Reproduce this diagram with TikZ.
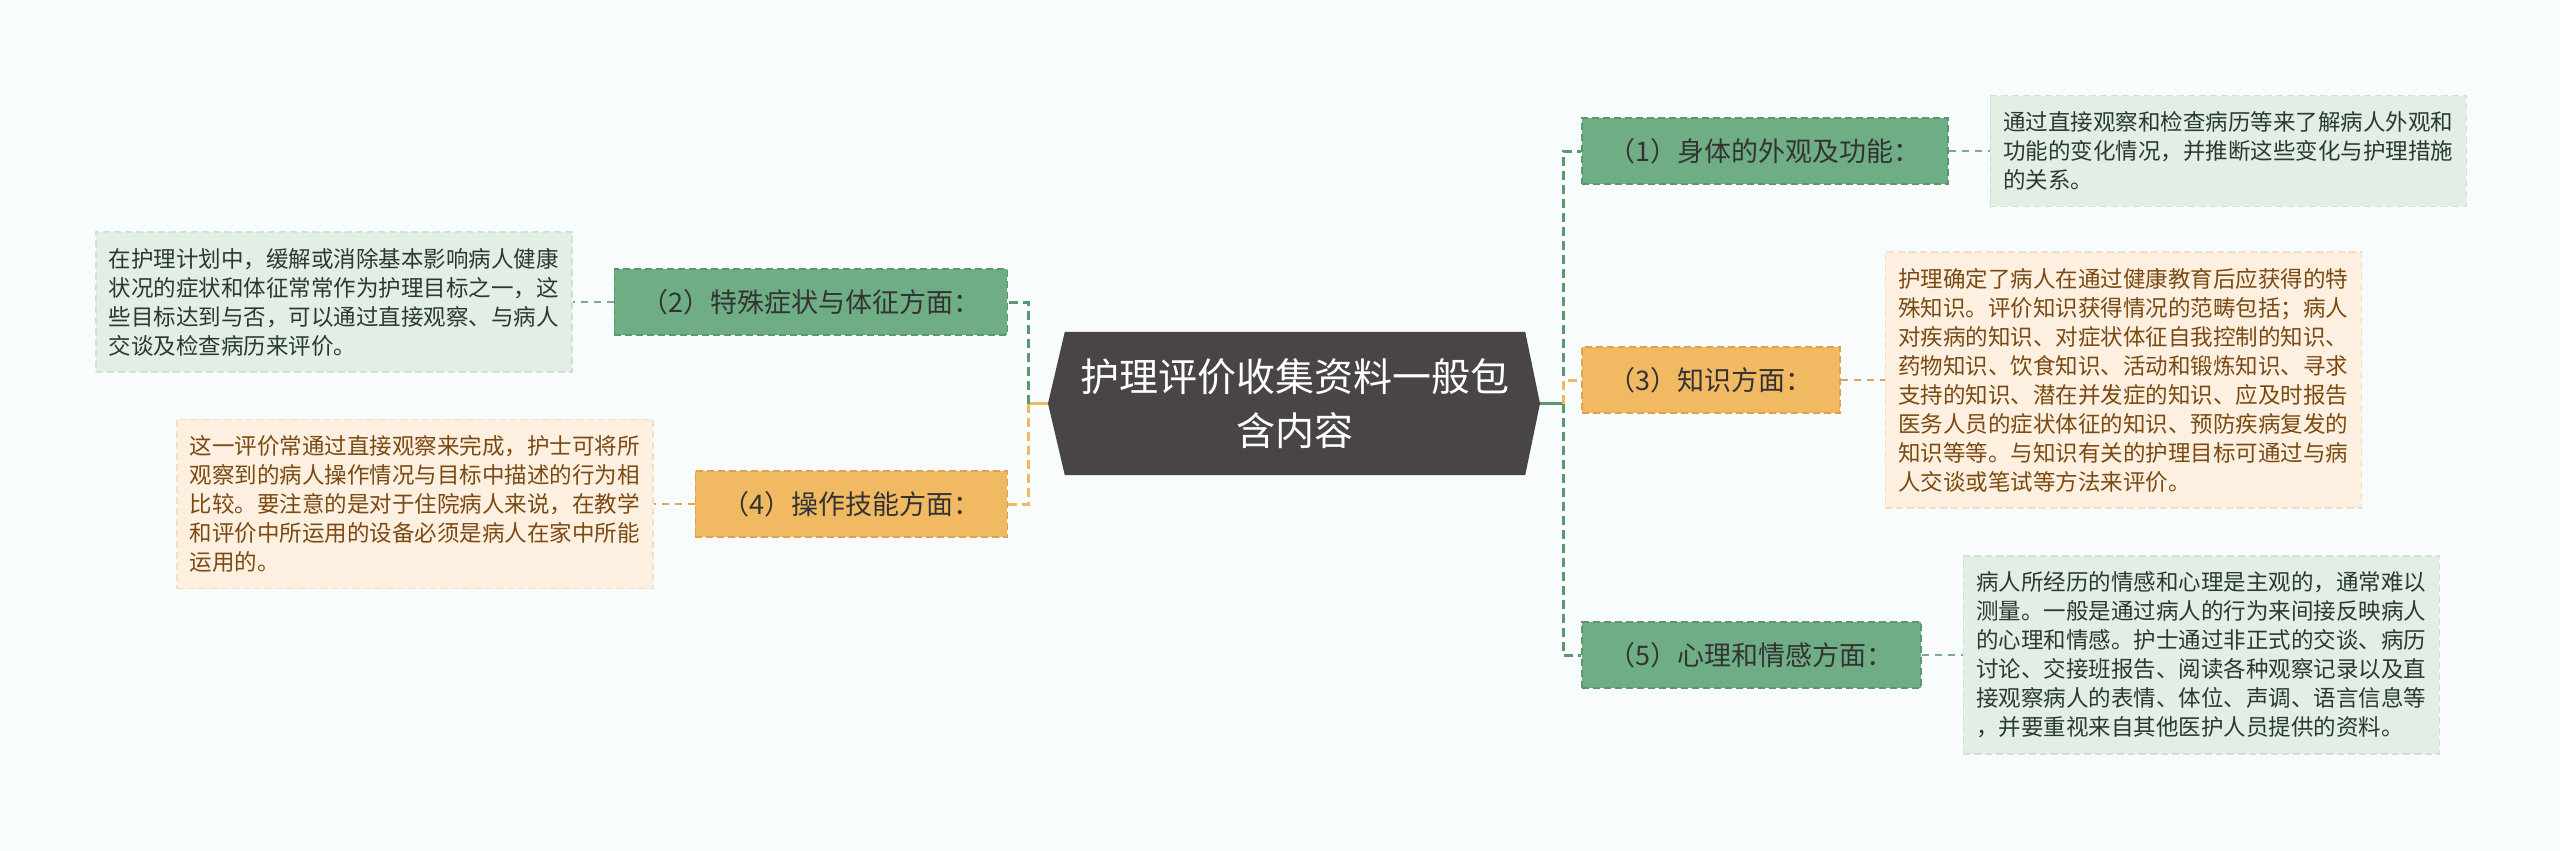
\documentclass[tikz,border=0pt]{standalone}
\usepackage{fontspec}
\setmainfont{Noto Sans CJK SC}
\usepackage{tikz}
\usetikzlibrary{positioning,backgrounds}
\definecolor{bgpale}{HTML}{F8FCFC}
\definecolor{rootgray}{HTML}{4A4545}
\definecolor{sage}{HTML}{6FAE85}
\definecolor{sagedark}{HTML}{5A9870}
\definecolor{sagelight}{HTML}{E3EEE5}
\definecolor{sageline}{HTML}{D0E2D5}
\definecolor{sagetext}{HTML}{2B3A2F}
\definecolor{amber}{HTML}{F1BA62}
\definecolor{amberdark}{HTML}{D9A350}
\definecolor{amberlight}{HTML}{FDF0E1}
\definecolor{amberline}{HTML}{F5DFC3}
\definecolor{ambertext}{HTML}{7B4A12}
\tikzset{
  branch/.style={line width=1.5pt,dash pattern=on 7pt off 4pt,minimum height=66pt,
                 inner xsep=27pt,font=\fontsize{27}{31}\selectfont,text=black!80},
  brg/.style={branch,fill=sage,draw=sagedark},
  bro/.style={branch,fill=amber,draw=amberdark},
  leaf/.style={line width=1.5pt,dash pattern=on 7pt off 4pt,align=left,
               inner xsep=13pt,inner ysep=16pt,font=\fontsize{22.5}{29}\selectfont},
  leafg/.style={leaf,fill=sagelight,draw=sageline,text=sagetext},
  leafo/.style={leaf,fill=amberlight,draw=amberline,text=ambertext},
  gspine/.style={sagedark,line width=3pt,dash pattern=on 9pt off 5pt},
  ospine/.style={amber,line width=3pt,dash pattern=on 9pt off 5pt},
  gsolid/.style={sagedark,line width=3pt},
  osolid/.style={amber,line width=3pt},
  glink/.style={sagedark!80,line width=2pt,dash pattern=on 7pt off 6pt},
  olink/.style={amber!90!black,line width=2pt,dash pattern=on 7pt off 6pt},
}
\begin{document}
\begin{tikzpicture}[x=1pt,y=-1pt]
  % centre topic
  \node[font=\fontsize{39}{54}\selectfont,text=white,align=center,
        minimum width=460pt,minimum height=143pt,inner sep=0pt] (root) at (1295,403.5)
        {护理评价收集资料一般包\\含内容};
  \coordinate (ltip) at (1048,403.5);
  \coordinate (rtip) at (1540,403.5);
  \coordinate (lspine) at (1028,403.5);
  \coordinate (rspine) at (1563,403.5);
  \begin{scope}[on background layer]
    \fill[bgpale] (0,0) rectangle (2560,851);
    \fill[rootgray] (ltip) -- (root.north west) -- (root.north east) -- (rtip)
      -- (root.south east) -- (root.south west) -- cycle;
  \end{scope}

  % branches
  \node[brg,anchor=west] (b1) at (1581,151) {（1）身体的外观及功能：};
  \node[bro,anchor=west] (b3) at (1581,380) {（3）知识方面：};
  \node[brg,anchor=west] (b5) at (1581,655) {（5）心理和情感方面：};
  \node[brg,anchor=east] (b2) at (1008,302) {（2）特殊症状与体征方面：};
  \node[bro,anchor=east] (b4) at (1008,504) {（4）操作技能方面：};

  % details
  \node[leafg,right=41pt of b1] (l1) {通过直接观察和检查病历等来了解病人外观和\\功能的变化情况，并推断这些变化与护理措施\\的关系。};
  \node[leafo,right=44pt of b3] (l3) {护理确定了病人在通过健康教育后应获得的特\\殊知识。评价知识获得情况的范畴包括；病人\\对疾病的知识、对症状体征自我控制的知识、\\药物知识、饮食知识、活动和锻炼知识、寻求\\支持的知识、潜在并发症的知识、应及时报告\\医务人员的症状体征的知识、预防疾病复发的\\知识等等。与知识有关的护理目标可通过与病\\人交谈或笔试等方法来评价。};
  \node[leafg,right=41pt of b5] (l5) {病人所经历的情感和心理是主观的，通常难以\\测量。一般是通过病人的行为来间接反映病人\\的心理和情感。护士通过非正式的交谈、病历\\讨论、交接班报告、阅读各种观察记录以及直\\接观察病人的表情、体位、声调、语言信息等\\，并要重视来自其他医护人员提供的资料。};
  \node[leafg,left=41pt of b2] (l2) {在护理计划中，缓解或消除基本影响病人健康\\状况的症状和体征常常作为护理目标之一，这\\些目标达到与否，可以通过直接观察、与病人\\交谈及检查病历来评价。};
  \node[leafo,left=41pt of b4] (l4) {这一评价常通过直接观察来完成，护士可将所\\观察到的病人操作情况与目标中描述的行为相\\比较。要注意的是对于住院病人来说，在教学\\和评价中所运用的设备必须是病人在家中所能\\运用的。};

  % connectors
  \draw[gsolid] (rtip) -- (rspine);
  \draw[gspine] (rspine) |- (b1.west);
  \draw[gspine] (rspine) |- (b5.west);
  \draw[ospine] (rspine) |- (b3.west);
  \draw[osolid] (ltip) -- (lspine);
  \draw[gspine] (lspine) |- (b2.east);
  \draw[ospine] (lspine) |- (b4.east);
  \foreach \b/\l/\s in {b1/l1/glink,b3/l3/olink,b5/l5/glink,b2/l2/glink,b4/l4/olink}
    \draw[\s] (\b) -- (\l);
\end{tikzpicture}
\end{document}
